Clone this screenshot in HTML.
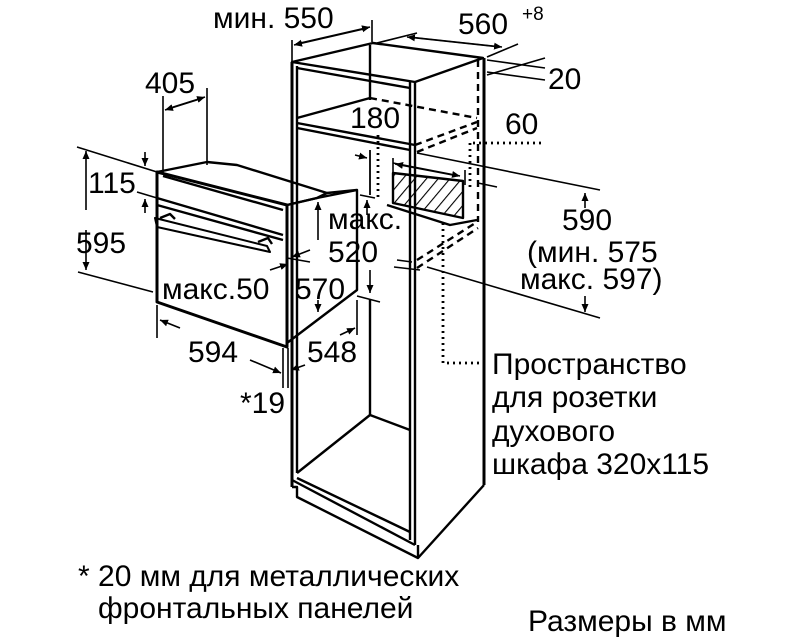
<!DOCTYPE html>
<html><head><meta charset="utf-8"><style>
html,body{margin:0;padding:0;background:#fff;}
svg{display:block;}
text{font-family:"Liberation Sans",Arial,sans-serif;font-size:30px;fill:#000;}
</style></head><body>
<svg width="792" height="643" viewBox="0 0 792 643" xmlns="http://www.w3.org/2000/svg">
<defs>
<marker id="a" markerWidth="9" markerHeight="9" refX="8" refY="4.5" orient="auto" markerUnits="userSpaceOnUse"><path d="M0,1 L8,4.5 L0,8 Z" fill="#000"/></marker>
<pattern id="h" width="9" height="9" patternUnits="userSpaceOnUse" patternTransform="rotate(40)"><line x1="0" y1="0" x2="0" y2="9" stroke="#000" stroke-width="2.2"/></pattern>
</defs>
<g fill="none" stroke="#000" stroke-width="2.4" stroke-linejoin="round">
<path d="M292,62 L373,43 L483,58 L415,82 Z"/>
<line x1="292" y1="62" x2="292" y2="487" stroke-width="3"/>
<line x1="297" y1="66" x2="297" y2="473"/>
<line x1="415" y1="82" x2="415" y2="545"/>
<line x1="410" y1="82" x2="410" y2="540"/>
<line x1="484" y1="58" x2="484" y2="485" stroke-width="3"/>
<line x1="297" y1="68" x2="410" y2="88"/>
<line x1="370" y1="45" x2="370" y2="100"/>
<path d="M297,118 L370,98"/>
<path d="M370,98 L477,118" stroke-dasharray="7,5"/>
<path d="M297,123 L415,145"/>
<path d="M297,128 L410,150"/>
<path d="M415,145 L477,122 M417,152 L477,128" stroke-dasharray="7,5"/>
<line x1="478" y1="60" x2="478" y2="222" stroke-dasharray="7,5"/>
<line x1="370" y1="150" x2="370" y2="195" stroke-width="1.8"/>
<path d="M297,473 L370,415 L410,430"/>
<line x1="370" y1="300" x2="370" y2="415"/>
<line x1="297" y1="478" x2="410" y2="532"/>
<path d="M292,487 L297,487 L297,497 L418,558 L484,485"/>
<line x1="418" y1="545" x2="418" y2="558"/>
<line x1="292" y1="480" x2="415" y2="545"/>
<path d="M393,173 L463,181 L463,218 L393,203 Z" fill="url(#h)"/>
<path d="M387,205 L450,225 L477,220"/>
<path d="M417,260 L477,222 M417,268 L478,228" stroke-dasharray="7,5"/>
<path d="M157,172 L157,302 L287,347 L287,205 Z" stroke-width="3"/>
<path d="M157,172 L207,162 L237,165 L327,193 L317,198 L287,205"/>
<path d="M287,205 L317,198 L357,190 L357,290 L287,343"/>
<line x1="327" y1="193" x2="357" y2="190"/>
<line x1="157" y1="198" x2="283" y2="235"/>
<line x1="157" y1="205" x2="283" y2="240"/>
<line x1="163" y1="176" x2="283" y2="210"/>
<path d="M155,218 L267,246 L270,252 L157,227 Z" stroke-width="2"/>
<path d="M160,218 L170,214 L175,219 M258,242 L268,238 L272,244"/>
</g>
<g fill="none" stroke="#000" stroke-width="1.6">
<path d="M473,143 L545,143 M470,143 L470,190 M443,223 L443,363 L485,363" stroke-dasharray="2,4" stroke-width="2.8"/>
<line x1="378" y1="135" x2="378" y2="200" stroke-dasharray="2,4" stroke-width="2.8"/>
<line x1="292" y1="40" x2="292" y2="62"/><line x1="372" y1="20" x2="372" y2="42"/>
<line x1="296" y1="44" x2="370" y2="27" marker-end="url(#a)"/><line x1="368" y1="28" x2="294" y2="45" marker-end="url(#a)"/>
<line x1="377" y1="43" x2="417" y2="33"/><line x1="487" y1="57" x2="518" y2="44"/>
<line x1="409" y1="37" x2="502" y2="47" marker-end="url(#a)"/><line x1="500" y1="47" x2="407" y2="37" marker-end="url(#a)"/>
<line x1="487" y1="60" x2="545" y2="68"/><line x1="487" y1="75" x2="545" y2="58"/>
<line x1="487" y1="72" x2="545" y2="80"/>
<line x1="163" y1="96" x2="163" y2="173"/><line x1="207" y1="88" x2="207" y2="165"/>
<line x1="167" y1="109" x2="205" y2="97" marker-end="url(#a)"/><line x1="203" y1="98" x2="165" y2="110" marker-end="url(#a)"/>
<line x1="77" y1="147" x2="157" y2="172"/><line x1="137" y1="192" x2="157" y2="198"/>
<line x1="78" y1="272" x2="153" y2="292"/>
<line x1="86" y1="210" x2="86" y2="151" marker-end="url(#a)"/><line x1="86" y1="230" x2="86" y2="270" marker-end="url(#a)"/>
<line x1="145" y1="152" x2="145" y2="166" marker-end="url(#a)"/><line x1="145" y1="213" x2="145" y2="199" marker-end="url(#a)"/>
<line x1="157" y1="305" x2="157" y2="338"/>
<line x1="180" y1="328" x2="160" y2="320" marker-end="url(#a)"/><line x1="250" y1="360" x2="281" y2="373" marker-end="url(#a)"/>
<line x1="283" y1="348" x2="283" y2="388"/><line x1="288" y1="348" x2="288" y2="388"/>
<line x1="357" y1="300" x2="357" y2="335"/>
<line x1="340" y1="335" x2="355" y2="328" marker-end="url(#a)"/><line x1="305" y1="365" x2="291" y2="370" marker-end="url(#a)"/>
<line x1="318" y1="240" x2="318" y2="202" marker-end="url(#a)"/><line x1="318" y1="300" x2="318" y2="312" marker-end="url(#a)"/>
<line x1="287" y1="258" x2="310" y2="262"/>
<line x1="270" y1="270" x2="288" y2="264" marker-end="url(#a)"/><line x1="310" y1="250" x2="292" y2="257" marker-end="url(#a)"/>
<line x1="367" y1="215" x2="367" y2="200" marker-end="url(#a)"/><line x1="370" y1="270" x2="370" y2="293" marker-end="url(#a)"/>
<line x1="357" y1="296" x2="380" y2="302"/><line x1="360" y1="195" x2="375" y2="198"/>
<line x1="355" y1="155" x2="367" y2="158" marker-end="url(#a)"/>
<line x1="393" y1="163" x2="460" y2="176" marker-end="url(#a)"/><line x1="458" y1="176" x2="395" y2="164" marker-end="url(#a)"/>
<line x1="393" y1="158" x2="393" y2="172"/><line x1="465" y1="170" x2="465" y2="185"/>
<line x1="417" y1="153" x2="600" y2="190"/><line x1="427" y1="267" x2="600" y2="318"/>
<line x1="478" y1="183" x2="497" y2="187"/>
<line x1="585" y1="208" x2="585" y2="193" marker-end="url(#a)"/><line x1="585" y1="296" x2="585" y2="312" marker-end="url(#a)"/>
<line x1="397" y1="260" x2="412" y2="262"/><line x1="394" y1="267" x2="420" y2="270"/>
</g>
<text x="213" y="28">мин. 550</text>
<text x="458" y="34">560</text><text x="522" y="20" style="font-size:19px">+8</text>
<text x="548" y="89">20</text>
<text x="145" y="93">405</text>
<text x="350" y="128">180</text>
<text x="505" y="134">60</text>
<text x="88" y="193">115</text>
<text x="76" y="253">595</text>
<text x="328" y="229">макс.</text>
<text x="328" y="262">520</text>
<text x="562" y="230">590</text>
<text x="527" y="262">(мин. 575</text>
<text x="520" y="289">макс. 597)</text>
<text x="162" y="299">макс.50</text>
<text x="295" y="299">570</text>
<text x="188" y="362">594</text>
<text x="307" y="362">548</text>
<text x="240" y="413">*19</text>
<text x="492" y="374">Пространство</text>
<text x="492" y="407">для розетки</text>
<text x="492" y="441">духового</text>
<text x="492" y="474">шкафа 320x115</text>
<text x="78" y="586">* 20 мм для металлических</text>
<text x="98" y="618">фронтальных панелей</text>
<text x="528" y="631">Размеры в мм</text>
</svg>
</body></html>
